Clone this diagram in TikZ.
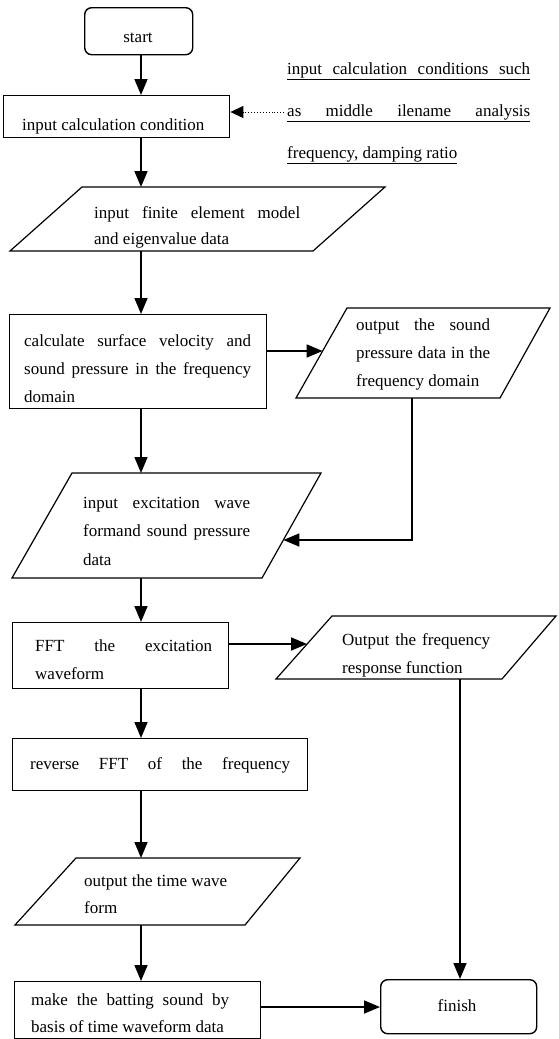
\documentclass[tikz,border=0pt]{standalone}
\usepackage{fontspec}
\setmainfont{Liberation Serif}
\usetikzlibrary{arrows.meta}
\hyphenpenalty=10000
\begin{document}
\begin{tikzpicture}[x=1pt,y=-1pt,
  box/.style={draw, line width=1.4pt, inner sep=0pt, anchor=north west},
  rbox/.style={box, rounded corners=7pt},
  para/.style={draw, line width=1.2pt, line join=miter},
  txt/.style={anchor=base west, inner sep=0pt, font=\fontsize{17}{20}\selectfont},
  ctxt/.style={anchor=base, inner sep=0pt, font=\fontsize{17}{20}\selectfont},
  arr/.style={line width=1.7pt, -{Triangle[length=16pt,width=13pt]}},
  dotarr/.style={line width=0.9pt, dotted, -{Triangle[length=13pt,width=12pt]}}
]
\useasboundingbox (0,0) rectangle (558,1039);
\coordinate (ax) at (141,0);

% start
\node[rbox, minimum width=108pt, minimum height=47pt] (start) at (84,7) {};
\node[ctxt] (tstart) at (138,42) {start};

% input calculation condition
\node[box, minimum width=226pt, minimum height=42pt] (calc1) at (3,95) {};
\node[txt] (tcalc1) at (22,130) {input calculation condition};

% annotation
\node[txt] (ann1) at (287,74) {\underline{\makebox[243pt][s]{input calculation conditions such}}};
\node[txt] (ann2) at (287,116) {\underline{\makebox[243pt][s]{as middle ilename analysis}}};
\node[txt] (ann3) at (287,158) {\underline{frequency, damping ratio}};
\coordinate (dotS) at (284,112);
\draw[dotarr] (dotS) -- (calc1.east |- dotS);

% input finite element model
\draw[para] (82,187) coordinate (in1a) -- (385,187) coordinate (in1b) -- (313,251) coordinate (in1c) -- (10,251) coordinate (in1d) -- cycle;
\coordinate (in1n) at (141,187);
\coordinate (in1s) at (141,251);
\node[txt] (tin1a) at (94,218) {\makebox[206pt][s]{input finite element model}};
\node[txt] (tin1b) at (94,244) {and eigenvalue data};

% calculate surface velocity
\node[box, minimum width=257pt, minimum height=94pt] (calc2) at (9,314) {};
\node[txt] (tc2a) at (24,346) {\makebox[227pt][s]{calculate surface velocity and}};
\node[txt] (tc2b) at (24,374) {\makebox[227pt][s]{sound pressure in the frequency}};
\node[txt] (tc2c) at (24,402) {domain};

% output sound pressure
\draw[para] (347,308) coordinate (o2a) -- (550,308) coordinate (o2b) -- (500,398) coordinate (o2c) -- (296,398) coordinate (o2d) -- cycle;
\coordinate (o2w) at (322.6,351);
\coordinate (o2s) at (412,398);
\node[txt] (to2a) at (356,330) {\makebox[134pt][s]{output the sound}};
\node[txt] (to2b) at (356,358) {\makebox[134pt][s]{pressure data in the}};
\node[txt] (to2c) at (356,386) {frequency domain};

% input excitation
\draw[para] (72,473) coordinate (in3a) -- (321,473) coordinate (in3b) -- (262,578) coordinate (in3c) -- (12,578) coordinate (in3d) -- cycle;
\coordinate (in3n) at (141,473);
\coordinate (in3s) at (141,578);
\coordinate (in3e) at (283.4,540);
\node[txt] (ti3a) at (83,508) {\makebox[167pt][s]{input excitation wave}};
\node[txt] (ti3b) at (83,536) {\makebox[167pt][s]{formand sound pressure}};
\node[txt] (ti3c) at (83,565) {data};

% FFT
\node[box, minimum width=216pt, minimum height=66pt] (fft) at (12,622) {};
\node[txt] (tfa) at (35,651) {\makebox[177pt][s]{FFT the excitation}};
\node[txt] (tfb) at (35,679) {waveform};

% output frequency response
\draw[para] (332,616) coordinate (o4a) -- (556,616) coordinate (o4b) -- (502,679) coordinate (o4c) -- (276,679) coordinate (o4d) -- cycle;
\coordinate (o4w) at (307,644);
\coordinate (o4s) at (460,679);
\node[txt] (to4a) at (342,645) {\makebox[148pt][s]{Output the frequency}};
\node[txt] (to4b) at (342,673) {response function};

% reverse FFT
\node[box, minimum width=295pt, minimum height=52pt] (rev) at (12,738) {};
\node[txt] (trev) at (30,769) {\makebox[260pt][s]{reverse FFT of the frequency}};

% output time wave form
\draw[para] (76,858) coordinate (o5a) -- (300,858) coordinate (o5b) -- (245,925) coordinate (o5c) -- (15,925) coordinate (o5d) -- cycle;
\coordinate (o5n) at (141,858);
\coordinate (o5s) at (141,925);
\node[txt] (to5a) at (84,886) {output the time wave};
\node[txt] (to5b) at (84,913) {form};

% make the batting sound
\node[box, minimum width=246pt, minimum height=57pt] (make) at (14,981) {};
\node[txt] (tma) at (31,1005) {\makebox[198pt][s]{make the batting sound by}};
\node[txt] (tmb) at (31,1032) {basis of time waveform data};

% finish
\node[rbox, minimum width=156pt, minimum height=54pt] (finish) at (380,979) {};
\node[ctxt] (tfin) at (457,1011) {finish};

% connectors
\draw[arr] (start.south -| ax) -- (calc1.north -| ax);
\draw[arr] (calc1.south -| ax) -- (in1n);
\draw[arr] (in1s) -- (calc2.north -| ax);
\draw[arr] (calc2.east |- o2w) -- (o2w);
\draw[arr] (calc2.south -| ax) -- (in3n);
\draw[arr] (o2s) |- (in3e);
\draw[arr] (in3s) -- (fft.north -| ax);
\draw[arr] (fft.east |- o4w) -- (o4w);
\draw[arr] (fft.south -| ax) -- (rev.north -| ax);
\draw[arr] (o4s) -- (finish.north -| o4s);
\draw[arr] (rev.south -| ax) -- (o5n);
\draw[arr] (o5s) -- (make.north -| ax);
\coordinate (mk) at (0,1007);
\draw[arr] (make.east |- mk) -- (finish.west |- mk);
\end{tikzpicture}
\end{document}
